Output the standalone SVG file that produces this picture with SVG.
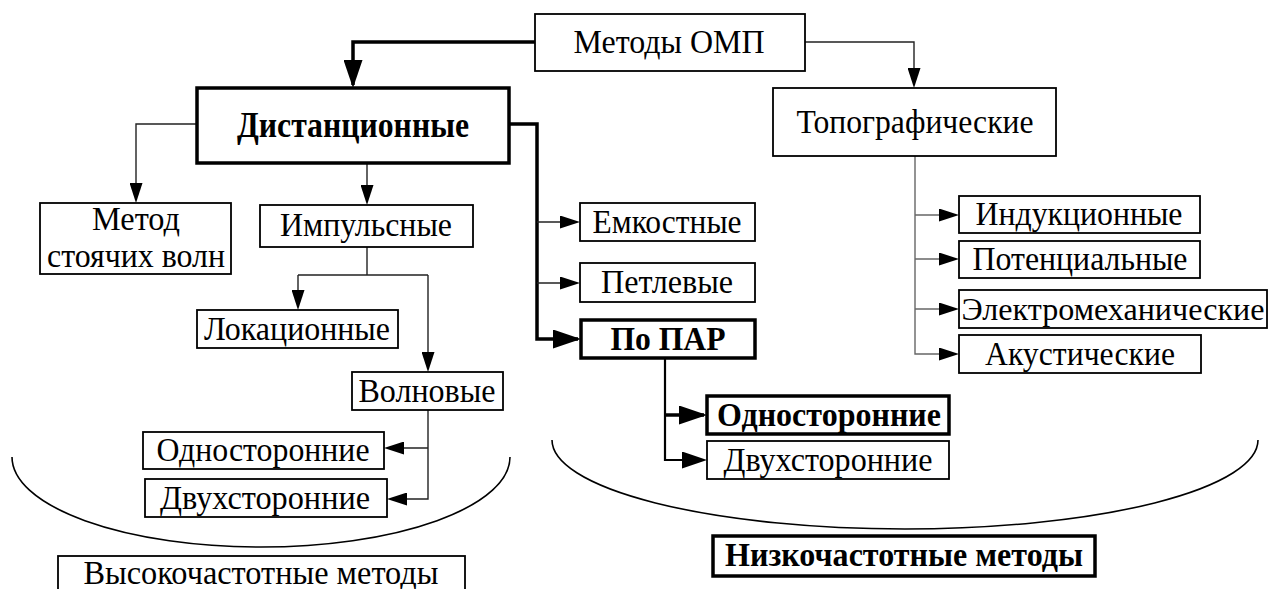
<svg xmlns="http://www.w3.org/2000/svg" width="1268" height="589" viewBox="0 0 1268 589">
<style>
text{font-family:"Liberation Serif","Times New Roman",serif;font-size:34px;fill:#000;text-anchor:middle}
.b{font-weight:bold}
.big{font-size:36px}
.sm{font-size:32px}
.box{fill:#fff;stroke:#000;stroke-width:1.8}
.tbox{fill:#fff;stroke:#000;stroke-width:3.5}
.thin{fill:none;stroke:#222;stroke-width:1.4}
.grey{fill:none;stroke:#666;stroke-width:1.4}
.mid{fill:none;stroke:#000;stroke-width:2.2}
.thick{fill:none;stroke:#000;stroke-width:3.5}
.curve{fill:none;stroke:#000;stroke-width:1.6}
</style>
<defs>
<marker id="a" viewBox="0 0 20 13" refX="17" refY="6.5" markerWidth="20" markerHeight="13" markerUnits="userSpaceOnUse" orient="auto"><path d="M0,0L20,6.5L0,13z" fill="#000"/></marker>
<marker id="m" viewBox="0 0 25 17" refX="22" refY="8.5" markerWidth="25" markerHeight="17" markerUnits="userSpaceOnUse" orient="auto"><path d="M0,0L25,8.5L0,17z" fill="#000"/></marker>
<marker id="A" viewBox="0 0 28 19" refX="25" refY="9.5" markerWidth="28" markerHeight="19" markerUnits="userSpaceOnUse" orient="auto"><path d="M0,0L28,9.5L0,19z" fill="#000"/></marker>
</defs>
<g id="connectors">
<path class="thick" d="M535,42H353V85" marker-end="url(#A)"/>
<path class="thin" d="M805,42H914V85" marker-end="url(#a)"/>
<path class="thin" d="M197,124H136V200" marker-end="url(#a)"/>
<path class="thin" d="M367,163V202" marker-end="url(#a)"/>
<path class="thick" d="M509,124H537V339H578" marker-end="url(#A)"/>
<path class="thin" d="M537,222H577" marker-end="url(#a)"/>
<path class="thin" d="M537,283H577" marker-end="url(#a)"/>
<path class="thin" d="M367,247V275M298,275H428"/>
<path class="thin" d="M298,275V307" marker-end="url(#a)"/>
<path class="thin" d="M428,275V369" marker-end="url(#a)"/>
<path class="thin" d="M428,410V499H390" marker-end="url(#a)"/>
<path class="thin" d="M428,448H387" marker-end="url(#a)"/>
<path class="grey" d="M915,156V354H956" marker-end="url(#a)"/>
<path class="grey" d="M915,215H956" marker-end="url(#a)"/>
<path class="grey" d="M915,259H956" marker-end="url(#a)"/>
<path class="grey" d="M915,309H956" marker-end="url(#a)"/>
<path class="mid" d="M665,358V460H704" marker-end="url(#m)"/>
<path class="thick" d="M665,415H704" marker-end="url(#A)"/>
<path class="curve" d="M12,457A249,90 0 0 0 510,457"/>
<path class="curve" d="M552,440A353,89 0 0 0 1258,440"/>
</g>
<g id="n-omp"><rect class="box" x="535" y="14" width="270" height="57"/><text x="669" y="53" textLength="191" lengthAdjust="spacingAndGlyphs">Методы ОМП</text></g>
<g id="n-dist"><rect class="tbox" x="197" y="88" width="312" height="75"/><text class="b big" x="353" y="137" textLength="232" lengthAdjust="spacingAndGlyphs">Дистанционные</text></g>
<g id="n-topo"><rect class="box" x="773" y="88" width="283" height="68"/><text x="915" y="133" textLength="237" lengthAdjust="spacingAndGlyphs">Топографические</text></g>
<g id="n-stoyach"><rect class="box" x="40" y="203" width="191" height="71"/><text x="136" y="230" textLength="88" lengthAdjust="spacingAndGlyphs">Метод</text><text x="136" y="267" textLength="178" lengthAdjust="spacingAndGlyphs">стоячих волн</text></g>
<g id="n-imp"><rect class="box" x="260" y="205" width="213" height="42"/><text x="366" y="236" textLength="172" lengthAdjust="spacingAndGlyphs">Импульсные</text></g>
<g id="n-emk"><rect class="box" x="580" y="203" width="175" height="38"/><text x="667" y="233" textLength="149" lengthAdjust="spacingAndGlyphs">Емкостные</text></g>
<g id="n-petl"><rect class="box" x="580" y="263" width="175" height="39"/><text x="667" y="293" textLength="132" lengthAdjust="spacingAndGlyphs">Петлевые</text></g>
<g id="n-par"><rect class="tbox" x="581" y="320" width="174" height="38"/><text class="b" x="668" y="350" textLength="115" lengthAdjust="spacingAndGlyphs">По ПАР</text></g>
<g id="n-lok"><rect class="box" x="197" y="310" width="201" height="38"/><text x="297" y="340" textLength="186" lengthAdjust="spacingAndGlyphs">Локационные</text></g>
<g id="n-voln"><rect class="box" x="352" y="372" width="151" height="38"/><text x="427" y="402" textLength="137" lengthAdjust="spacingAndGlyphs">Волновые</text></g>
<g id="n-odn1"><rect class="box" x="143" y="432" width="241" height="37"/><text x="263" y="461" textLength="213" lengthAdjust="spacingAndGlyphs">Односторонние</text></g>
<g id="n-dvu1"><rect class="box" x="145" y="479" width="242" height="38"/><text x="265" y="509" textLength="210" lengthAdjust="spacingAndGlyphs">Двухсторонние</text></g>
<g id="n-ind"><rect class="box" x="959" y="196" width="241" height="37"/><text x="1079" y="225" textLength="207" lengthAdjust="spacingAndGlyphs">Индукционные</text></g>
<g id="n-pot"><rect class="box" x="959" y="241" width="241" height="37"/><text x="1080" y="270" textLength="215" lengthAdjust="spacingAndGlyphs">Потенциальные</text></g>
<g id="n-elm"><rect class="box" x="959" y="290" width="308" height="38"/><text class="sm" x="1113" y="320" textLength="303" lengthAdjust="spacingAndGlyphs">Электромеханические</text></g>
<g id="n-ak"><rect class="box" x="959" y="335" width="242" height="38"/><text x="1080" y="365" textLength="190" lengthAdjust="spacingAndGlyphs">Акустические</text></g>
<g id="n-odn2"><rect class="tbox" x="707" y="396" width="242" height="38"/><text class="b" x="829" y="426" textLength="224" lengthAdjust="spacingAndGlyphs">Односторонние</text></g>
<g id="n-dvu2"><rect class="box" x="707" y="441" width="242" height="38"/><text x="828" y="471" textLength="209" lengthAdjust="spacingAndGlyphs">Двухсторонние</text></g>
<g id="n-vch"><rect class="box" x="58" y="556" width="407" height="50"/><text x="261" y="584" textLength="355" lengthAdjust="spacingAndGlyphs">Высокочастотные методы</text></g>
<g id="n-nch"><rect class="tbox" x="713" y="536" width="382" height="40"/><text class="b" x="904" y="566" textLength="358" lengthAdjust="spacingAndGlyphs">Низкочастотные методы</text></g>
</svg>
